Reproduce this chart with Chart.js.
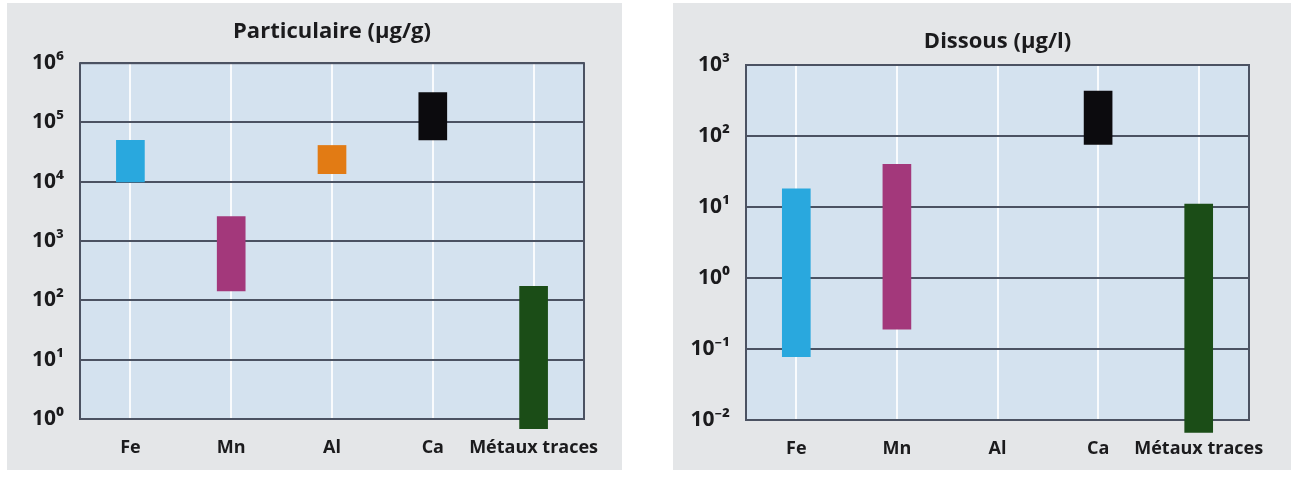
<!DOCTYPE html>
<html>
<head>
<meta charset="utf-8">
<script src="https://cdn.jsdelivr.net/npm/chart.js@4.4.1/dist/chart.umd.min.js"></script>
<style>
  body { margin: 0; background: #fff; width: 1297px; height: 477px; position: relative; overflow: hidden; }
  .panel { position: absolute; top: 3px; height: 467px; background: #e4e6e8; }
  #p1 { left: 7px; width: 615px; }
  #p2 { left: 673px; width: 618px; }
</style>
</head>
<body>
<div class="panel" id="p1"><canvas id="partChart"></canvas></div>
<div class="panel" id="p2"><canvas id="dissChart"></canvas></div>
<script>
// Categories shared by both panels
const categories = ['Fe', 'Mn', 'Al', 'Ca', 'Métaux traces'];
const barColors = ['#29a8de', '#a3387b', '#e27b14', '#0c0b0e', '#1b4d17'];

// Particulaire (µg/g): ranges min / max
const partMin = [10000, 145, 13700, 51000, 0.69];
const partMax = [50000, 2600, 41000, 320000, 173];
const partTicks = [1, 10, 100, 1000, 10000, 100000, 1000000];
const partTickLabels = ['10⁰', '10¹', '10²', '10³', '10⁴', '10⁵', '10⁶'];

// Dissous (µg/l): ranges min / max (no Al data)
const dissMin = [0.078, 0.19, null, 76, 0.0067];
const dissMax = [18, 40, null, 430, 11];
const dissTicks = [0.01, 0.1, 1, 10, 100, 1000];
const dissTickLabels = ['10⁻²', '10⁻¹', '10⁰', '10¹', '10²', '10³'];

const textColor = '#1b1b1d';
const gridColor = '#4b5262';
const fontFamily = "'Open Sans', 'Noto Sans', sans-serif";

// light blue plot area + dark frame
const plotFrame = {
    id: 'plotFrame',
    beforeDraw(chart) {
        const { ctx, chartArea: a } = chart;
        ctx.save();
        ctx.fillStyle = '#d4e2ef';
        ctx.fillRect(a.left, a.top, a.right - a.left, a.bottom - a.top);
        ctx.restore();
    },
    beforeDatasetsDraw(chart) {
        const { ctx, chartArea: a } = chart;
        ctx.save();
        ctx.strokeStyle = gridColor;
        ctx.lineWidth = 2;
        ctx.strokeRect(a.left, a.top, a.right - a.left, a.bottom - a.top);
        ctx.restore();
    }
};

function makeChart(id, title, lows, highs, ticks, tickLabels, o) {
    const ctx = document.getElementById(id).getContext('2d');
    return new Chart(ctx, {
        type: 'bar',
        data: {
            labels: categories,
            datasets: [{
                data: lows.map((lo, i) => lo == null ? null : [lo, highs[i]]),
                backgroundColor: barColors,
                borderWidth: 0,
                barThickness: 28,
                clip: false
            }]
        },
        options: {
            responsive: true,
            maintainAspectRatio: false,
            animation: false,
            layout: { padding: { left: 0, right: o.right, top: 0, bottom: 0 } },
            plugins: {
                legend: { display: false },
                tooltip: { enabled: false },
                title: {
                    display: true,
                    text: title,
                    fullSize: false,
                    color: textColor,
                    font: { family: fontFamily, size: 22, weight: 'bold' },
                    padding: { top: o.titleTop, bottom: o.titleBottom }
                }
            },
            scales: {
                x: {
                    offset: true,
                    grid: { offset: false, color: 'rgba(255,255,255,0.85)', lineWidth: 2, drawTicks: false },
                    border: { display: false },
                    ticks: {
                        autoSkip: false, maxRotation: 0, minRotation: 0,
                        color: textColor, font: { family: fontFamily, size: 18, weight: 'bold' }, padding: 18
                    },
                    afterFit: s => { s.height = o.bottom; }
                },
                y: {
                    type: 'logarithmic',
                    min: ticks[0],
                    max: ticks[ticks.length - 1],
                    afterBuildTicks: s => { s.ticks = ticks.map(v => ({ value: v })); },
                    afterFit: s => { s.width = 73; },
                    grid: { color: gridColor, lineWidth: 2, drawTicks: false },
                    border: { display: false },
                    ticks: {
                        autoSkip: false,
                        color: textColor,
                        font: { family: fontFamily, size: 21, weight: 'bold' },
                        padding: 16,
                        callback: (v, i) => tickLabels[i]
                    }
                }
            }
        },
        plugins: [plotFrame]
    });
}

makeChart('partChart', 'Particulaire (µg/g)', partMin, partMax, partTicks, partTickLabels,
    { right: 38, bottom: 51, titleTop: 15.5, titleBottom: 18.3 });
makeChart('dissChart', 'Dissous (µg/l)', dissMin, dissMax, dissTicks, dissTickLabels,
    { right: 42, bottom: 50, titleTop: 26, titleBottom: 9.6 });
</script>
</body>
</html>
